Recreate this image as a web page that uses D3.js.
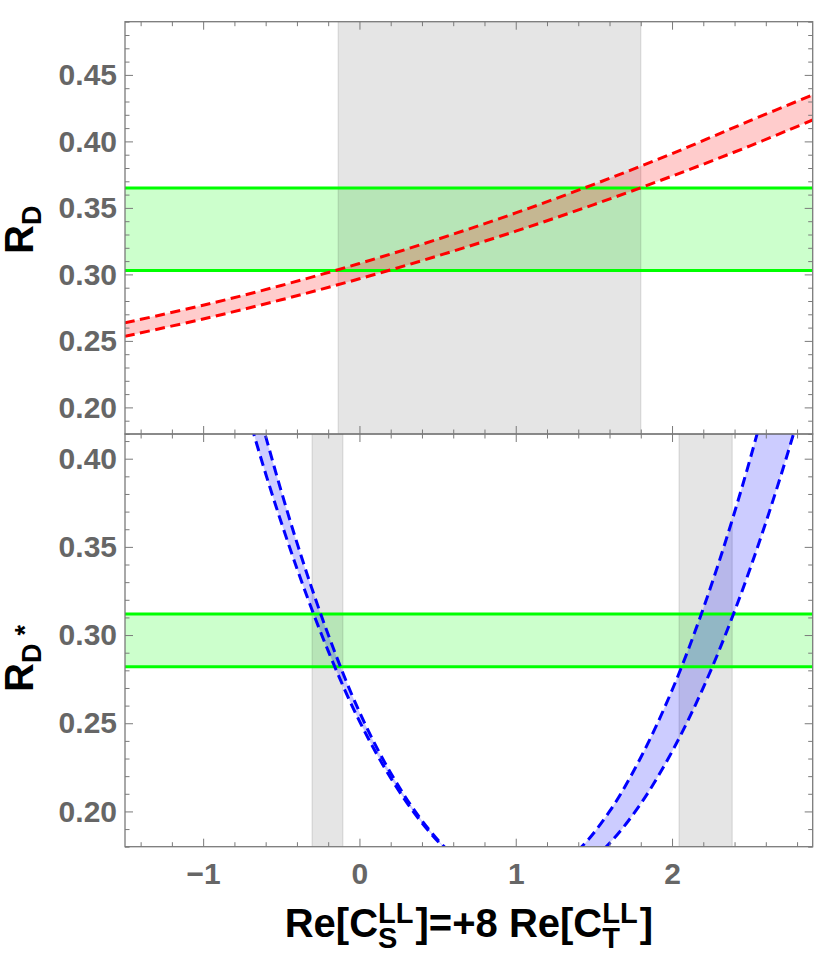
<!DOCTYPE html>
<html><head><meta charset="utf-8">
<script src="https://cdn.jsdelivr.net/npm/d3@7"></script>
<style>body{margin:0;background:#fff} svg{display:block}</style>
</head><body><svg id="c" width="834" height="955"></svg>
<script>
// ---------- data ----------
const xDomain = [-1.5, 2.9];
const topYDomain = [0.18, 0.49];
const botYDomain = [0.18, 0.414];
const xMajor = [-1, 0, 1, 2];
const xMinor = [-1.4,-1.2,-0.8,-0.6,-0.4,-0.2,0.2,0.4,0.6,0.8,1.2,1.4,1.6,1.8,2.2,2.4,2.6,2.8];
const topYMajor = [0.20, 0.25, 0.30, 0.35, 0.40, 0.45];
const botYMajor = [0.20, 0.25, 0.30, 0.35, 0.40];
const topYMinor = [0.18,0.19,0.21,0.22,0.23,0.24,0.26,0.27,0.28,0.29,0.31,0.32,0.33,0.34,0.36,0.37,0.38,0.39,0.41,0.42,0.43,0.44,0.46,0.47,0.48,0.49];
const botYMinor = [0.18,0.19,0.21,0.22,0.23,0.24,0.26,0.27,0.28,0.29,0.31,0.32,0.33,0.34,0.36,0.37,0.38,0.39,0.41];

// R_D band (red)
const rdX     = [-1.5, -1.0, -0.5, 0.0, 0.5, 1.0, 1.5, 2.0, 2.5, 2.9];
const rdUpper = [0.2636, 0.2768, 0.2917, 0.3082, 0.3264, 0.3462, 0.3677, 0.3908, 0.4156, 0.4350];
const rdLower = [0.2535, 0.2665, 0.2809, 0.2967, 0.3139, 0.3325, 0.3525, 0.3739, 0.3967, 0.4161];
const rdExp = [0.303, 0.365];
const rdAllowed = [[-0.136, 1.80]];

// R_D* band (blue)
const rdsX     = [-0.8,-0.6,-0.4,-0.2,0.0,0.2,0.4,0.6,0.8,1.0,1.2,1.4,1.6,1.8,2.0,2.2,2.4,2.6,2.8,3.0];
const rdsUpper = [0.4811,0.4127,0.3524,0.3003,0.2564,0.2218,0.1948,0.1752,0.1635,0.1601,0.1650,0.1780,0.2000,0.2306,0.2687,0.3151,0.3696,0.4323,0.5033,0.5824];
const rdsLower = [0.4521,0.3915,0.3378,0.2910,0.2512,0.2190,0.1935,0.1745,0.1618,0.1559,0.1576,0.1663,0.1819,0.2044,0.2339,0.2702,0.3135,0.3638,0.4209,0.4850];
const rdsExp = [0.282, 0.312];
const rdsAllowed = [[-0.303, -0.106], [2.045, 2.385]];

// ---------- layout ----------
const L = 125, R = 812.7, T = 21.7, M = 434, B = 846.7;
const svg = d3.select("#c");
const x = d3.scaleLinear().domain(xDomain).range([L, R]);
const FONT = "'Liberation Sans', Arial, sans-serif";
const frameColor = "#7a7a7a";

function panel(idx, yDomain, top, bottom, yMajor, yMinor, data) {
  const y = d3.scaleLinear().domain(yDomain).range([bottom, top]);
  const clipId = "clip" + idx;
  svg.append("clipPath").attr("id", clipId).append("rect")
    .attr("x", L).attr("y", top).attr("width", R - L).attr("height", bottom - top);
  const g = svg.append("g").attr("clip-path", `url(#${clipId})`);

  g.append("rect").attr("x", L).attr("width", R - L)
    .attr("y", y(data.exp[1])).attr("height", y(data.exp[0]) - y(data.exp[1]))
    .attr("fill", "#00ff00").attr("fill-opacity", 0.2);

  data.allowed.forEach(([a, b]) => {
    g.append("rect").attr("x", x(a)).attr("width", x(b) - x(a))
      .attr("y", top).attr("height", bottom - top)
      .attr("fill", "#000").attr("fill-opacity", 0.1);
    [a, b].forEach(v => g.append("line").attr("x1", x(v)).attr("x2", x(v))
      .attr("y1", top).attr("y2", bottom)
      .attr("stroke", "#000").attr("stroke-opacity", 0.1).attr("stroke-width", 1.3));
  });

  const pts = data.xs.map((xv, i) => ({ x: xv, lo: data.lower[i], hi: data.upper[i] }));
  const area = d3.area().x(d => x(d.x)).y0(d => y(d.lo)).y1(d => y(d.hi)).curve(d3.curveCatmullRom);
  g.append("path").datum(pts).attr("d", area).attr("fill", data.color).attr("fill-opacity", 0.2);

  data.exp.forEach(v => g.append("line").attr("x1", L).attr("x2", R)
    .attr("y1", y(v)).attr("y2", y(v)).attr("stroke", "#00ff00").attr("stroke-width", 3));

  ["lo", "hi"].forEach(k => {
    const line = d3.line().x(d => x(d.x)).y(d => y(d[k])).curve(d3.curveCatmullRom);
    g.append("path").datum(pts).attr("d", line).attr("fill", "none")
      .attr("stroke", data.color).attr("stroke-width", 3).attr("stroke-dasharray", "10,5.5");
  });

  svg.append("rect").attr("x", L).attr("y", top).attr("width", R - L).attr("height", bottom - top)
    .attr("fill", "none").attr("stroke", frameColor).attr("stroke-width", 1.3);

  const style = sel => {
    sel.select(".domain").remove();
    sel.selectAll("line").attr("stroke", frameColor).attr("stroke-width", 1);
    sel.selectAll("text").attr("fill", "#666").attr("font-family", FONT)
      .attr("font-weight", "bold").attr("font-size", 30);
  };
  svg.append("g").attr("transform", `translate(${L},0)`)
    .call(d3.axisLeft(y).tickValues(yMajor).tickSizeInner(-8).tickSizeOuter(0).tickPadding(8).tickFormat(d3.format(".2f"))).call(style);
  svg.append("g").attr("transform", `translate(${L},0)`)
    .call(d3.axisLeft(y).tickValues(yMinor).tickSizeInner(-4.5).tickSizeOuter(0).tickFormat("")).call(style);
  svg.append("g").attr("transform", `translate(${R},0)`)
    .call(d3.axisRight(y).tickValues(yMajor).tickSizeInner(-8).tickSizeOuter(0).tickFormat("")).call(style);
  svg.append("g").attr("transform", `translate(${R},0)`)
    .call(d3.axisRight(y).tickValues(yMinor).tickSizeInner(-4.5).tickSizeOuter(0).tickFormat("")).call(style);
  svg.append("g").attr("transform", `translate(0,${top})`)
    .call(d3.axisTop(x).tickValues(xMajor).tickSizeInner(-8).tickSizeOuter(0).tickFormat("")).call(style);
  svg.append("g").attr("transform", `translate(0,${top})`)
    .call(d3.axisTop(x).tickValues(xMinor).tickSizeInner(-4.5).tickSizeOuter(0).tickFormat("")).call(style);
  svg.append("g").attr("transform", `translate(0,${bottom})`)
    .call(d3.axisBottom(x).tickValues(xMajor).tickSizeInner(-8).tickSizeOuter(0).tickPadding(16)
      .tickFormat(idx === 1 ? d3.format("d") : "")).call(style);
  svg.append("g").attr("transform", `translate(0,${bottom})`)
    .call(d3.axisBottom(x).tickValues(xMinor).tickSizeInner(-4.5).tickSizeOuter(0).tickFormat("")).call(style);
  return y;
}

panel(0, topYDomain, T, M, topYMajor, topYMinor,
  { xs: rdX, upper: rdUpper, lower: rdLower, exp: rdExp, allowed: rdAllowed, color: "#ff0000" });
panel(1, botYDomain, M, B, botYMajor, botYMinor,
  { xs: rdsX, upper: rdsUpper, lower: rdsLower, exp: rdsExp, allowed: rdsAllowed, color: "#0000ff" });

// ---------- rich labels (single <text> with positioned tspans) ----------
function measure(s, size) {
  const tmp = svg.append("text").attr("font-family", FONT).attr("font-weight", "bold")
    .attr("font-size", size).text(s);
  const w = tmp.node().getComputedTextLength();
  tmp.remove();
  return w;
}
// items: {t, size, dy, dx} sequential, or {stack:[{t,size,dy},...]}
function rich(parent, items) {
  const text = parent.append("text").attr("font-family", FONT).attr("font-weight", "bold").attr("fill", "#000");
  let cx = 0;
  items.forEach(it => {
    if (it.stack) {
      let w = 0;
      it.stack.forEach(s => {
        text.append("tspan").attr("x", cx).attr("y", s.dy).attr("font-size", s.size).text(s.t);
        w = Math.max(w, measure(s.t, s.size));
      });
      cx += w + 1;
    } else {
      cx += it.dx || 0;
      text.append("tspan").attr("x", cx).attr("y", it.dy || 0).attr("font-size", it.size).text(it.t);
      cx += measure(it.t, it.size);
    }
  });
  return { text, w: cx };
}
const LF = 40, SF = 29;
const xl = rich(svg, [
  { t: "Re[C", size: LF },
  { stack: [{ t: "LL", size: SF, dy: -14 }, { t: "S", size: SF, dy: 11 }] },
  { t: "]=+8 Re[C", size: LF, dx: 1 },
  { stack: [{ t: "LL", size: SF, dy: -14 }, { t: "T", size: SF, dy: 11 }] },
  { t: "]", size: LF, dx: 1 }
]);
xl.text.attr("transform", `translate(${(L + R) / 2 - xl.w / 2},937)`);

const yl1 = rich(svg, [{ t: "R", size: LF }, { t: "D", size: 27, dy: 8 }]);
yl1.text.attr("transform", `translate(33,254) rotate(-90)`);
const yl2 = rich(svg, [{ t: "R", size: LF }, { t: "D", size: 27, dy: 8 }, { t: "*", size: 27, dy: 1, dx: 8 }]);
yl2.text.attr("transform", `translate(33,692) rotate(-90)`);
</script></body></html>
